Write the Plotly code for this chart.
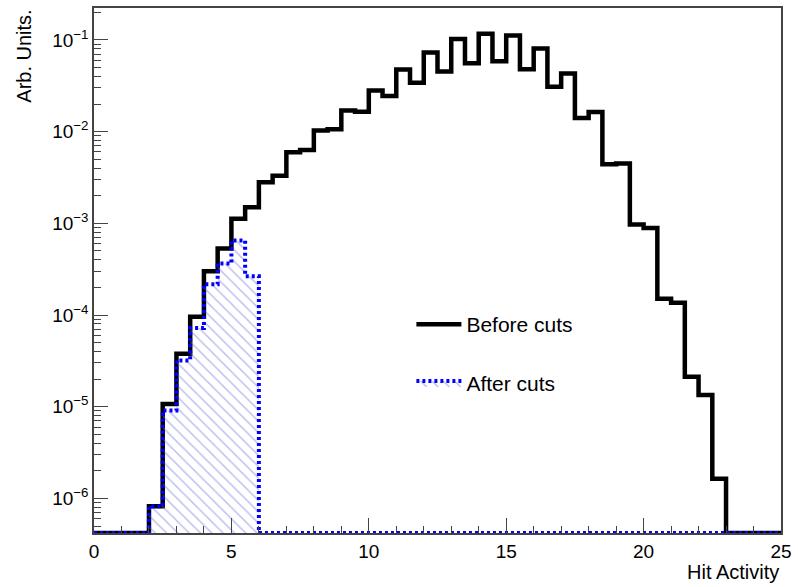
import numpy as np
import plotly.graph_objects as go

# Histogram binning: 50 bins over [0, 25]
bin_edges = np.linspace(0, 25, 51)

# Normalised hit-activity distributions (arbitrary units)
before_cuts = [
    0, 0, 0, 0,
    8.2e-7, 1.07e-5, 3.77e-5, 9.6e-5, 3.0e-4, 5.3e-4, 1.12e-3, 1.5e-3,
    2.81e-3, 3.3e-3, 5.96e-3, 6.3e-3, 1.03e-2, 1.06e-2, 1.7e-2, 1.65e-2,
    2.81e-2, 2.44e-2, 4.75e-2, 3.41e-2, 7.28e-2, 4.52e-2, 0.102, 0.0558,
    0.117, 0.0586, 0.112, 0.048, 0.0804, 0.0308, 0.043, 0.0141, 0.0164,
    4.41e-3, 4.5e-3, 9.7e-4, 8.9e-4, 1.5e-4, 1.36e-4, 2.12e-5, 1.34e-5,
    1.64e-6,
    0, 0, 0, 0,
]
after_cuts = [
    0, 0, 0, 0,
    8.2e-7, 9.1e-6, 3.2e-5, 7.2e-5, 2.16e-4, 3.65e-4, 6.5e-4, 2.65e-4,
] + [0] * 38

y_log_range = [-6.377, -0.652]
x_ticks = [0, 5, 10, 15, 20, 25]
y_ticks = [1e-6, 1e-5, 1e-4, 1e-3, 1e-2, 1e-1]
y_ticktext = ["10<sup>−6</sup>", "10<sup>−5</sup>", "10<sup>−4</sup>",
              "10<sup>−3</sup>", "10<sup>−2</sup>", "10<sup>−1</sup>"]

floor = 10 ** y_log_range[0]


def step_points(values):
    """Left-edge step coordinates; empty bins sit on the axis floor."""
    v = np.maximum(np.asarray(values, dtype=float), floor)
    xs = list(bin_edges[:-1]) + [bin_edges[-1]]
    ys = list(v) + [v[-1]]
    return xs, ys


FONT = "Liberation Sans, Arial, Helvetica, sans-serif"

fig = go.Figure()

bx, by = step_points(before_cuts)
fig.add_trace(go.Scatter(
    x=bx, y=by, mode="lines", line_shape="hv",
    line=dict(color="black", width=4.5),
    name="Before cuts", legend="legend", showlegend=True,
))

ax, ay = step_points(after_cuts)
fig.add_trace(go.Scatter(
    x=ax, y=ay, mode="lines", line_shape="hv",
    line=dict(color="#0000ff", width=4, dash="3px,3px"),
    fill="tozeroy", fillcolor="rgba(0,0,0,0)",
    fillpattern=dict(shape="\\", fgcolor="#7878e0", bgcolor="rgba(255,255,255,0)",
                     size=8, solidity=0.18),
    name="After cuts", legend="legend2", showlegend=True,
))

axis_common = dict(
    showline=True, linecolor="#444", linewidth=1.5, mirror=True,
    ticks="inside", tickcolor="#444", tickwidth=1.2,
    showgrid=False, zeroline=False,
    tickfont=dict(family=FONT, size=19, color="black"),
)

fig.update_xaxes(
    range=[0, 25], tickvals=x_ticks, ticklen=15,
    minor=dict(ticks="inside", dtick=1, ticklen=7, tickcolor="#444", showgrid=False),
    **axis_common,
)
fig.update_yaxes(
    type="log", range=y_log_range, tickvals=y_ticks, ticktext=y_ticktext,
    ticklen=14,
    minor=dict(ticks="inside", dtick="D1", ticklen=7, tickcolor="#444", showgrid=False),
    **axis_common,
)

legend_common = dict(
    xanchor="left", yanchor="middle", bgcolor="rgba(0,0,0,0)",
    font=dict(family=FONT, size=21, color="black"), itemwidth=45,
)

fig.update_layout(
    width=798, height=587,
    margin=dict(l=94, r=11, t=6, b=54),
    plot_bgcolor="white", paper_bgcolor="white",
    showlegend=True,
    legend=dict(x=0.462, y=0.397, **legend_common),
    legend2=dict(x=0.462, y=0.285, **legend_common),
    annotations=[
        dict(text="Hit Activity", xref="paper", yref="paper", x=1.0, y=-0.05,
             xanchor="right", yanchor="top", showarrow=False,
             font=dict(family=FONT, size=20, color="black")),
        dict(text="Arb. Units.", xref="paper", yref="paper", x=-0.122, y=1.0,
             xanchor="left", yanchor="top", textangle=-90, showarrow=False,
             font=dict(family=FONT, size=20, color="black")),
    ],
)

fig.write_html("out.html")
